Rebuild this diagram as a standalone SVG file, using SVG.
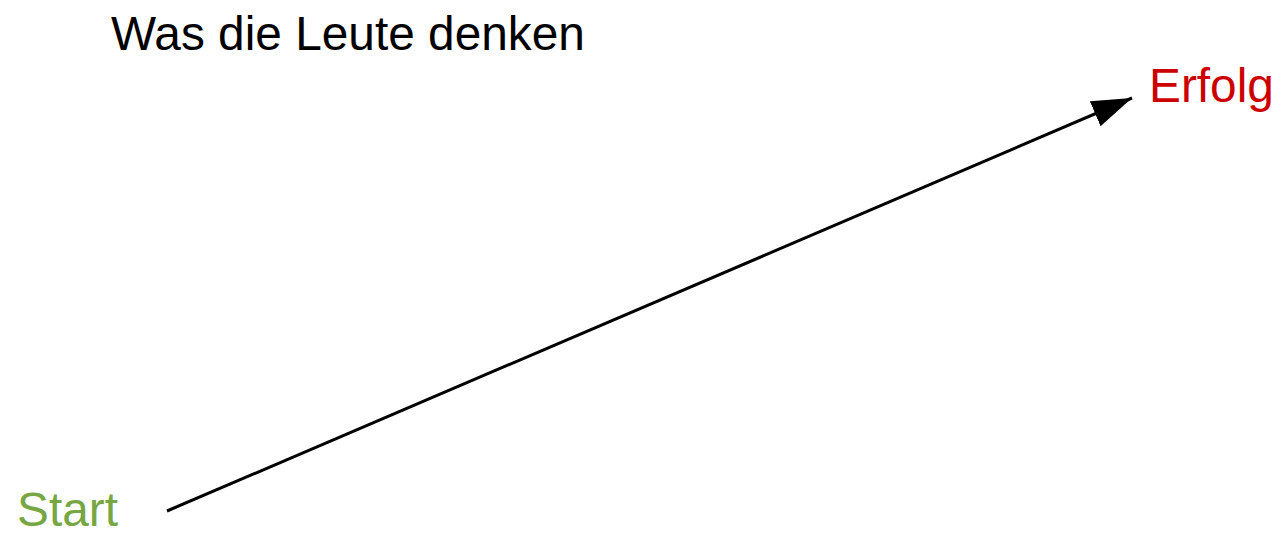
<svg xmlns="http://www.w3.org/2000/svg" width="1285" height="536" viewBox="0 0 1285 536">
<style>
.t{font-family:"Liberation Sans",Arial,sans-serif;font-size:47.8px}
</style>
<defs>
<marker id="ah" markerUnits="userSpaceOnUse" markerWidth="42" markerHeight="30" refX="40" refY="13.5" orient="auto" viewBox="0 0 42 30">
<path d="M0,0 L40,13.5 L0,27 z" fill="#000"/>
</marker>
</defs>
<rect width="1285" height="536" fill="#fff"/>
<g id="title"><text class="t" x="111" y="49.5" fill="#000">Was die Leute denken</text></g>
<g id="start"><text class="t" x="17" y="526" fill="#77a645">Start</text></g>
<g id="erfolg"><text class="t" x="1149" y="102" fill="#cc0000">Erfolg</text></g>
<g id="connectors">
<line x1="167" y1="511" x2="1132" y2="98" stroke="#000" stroke-width="3" marker-end="url(#ah)"/>
</g>
</svg>
